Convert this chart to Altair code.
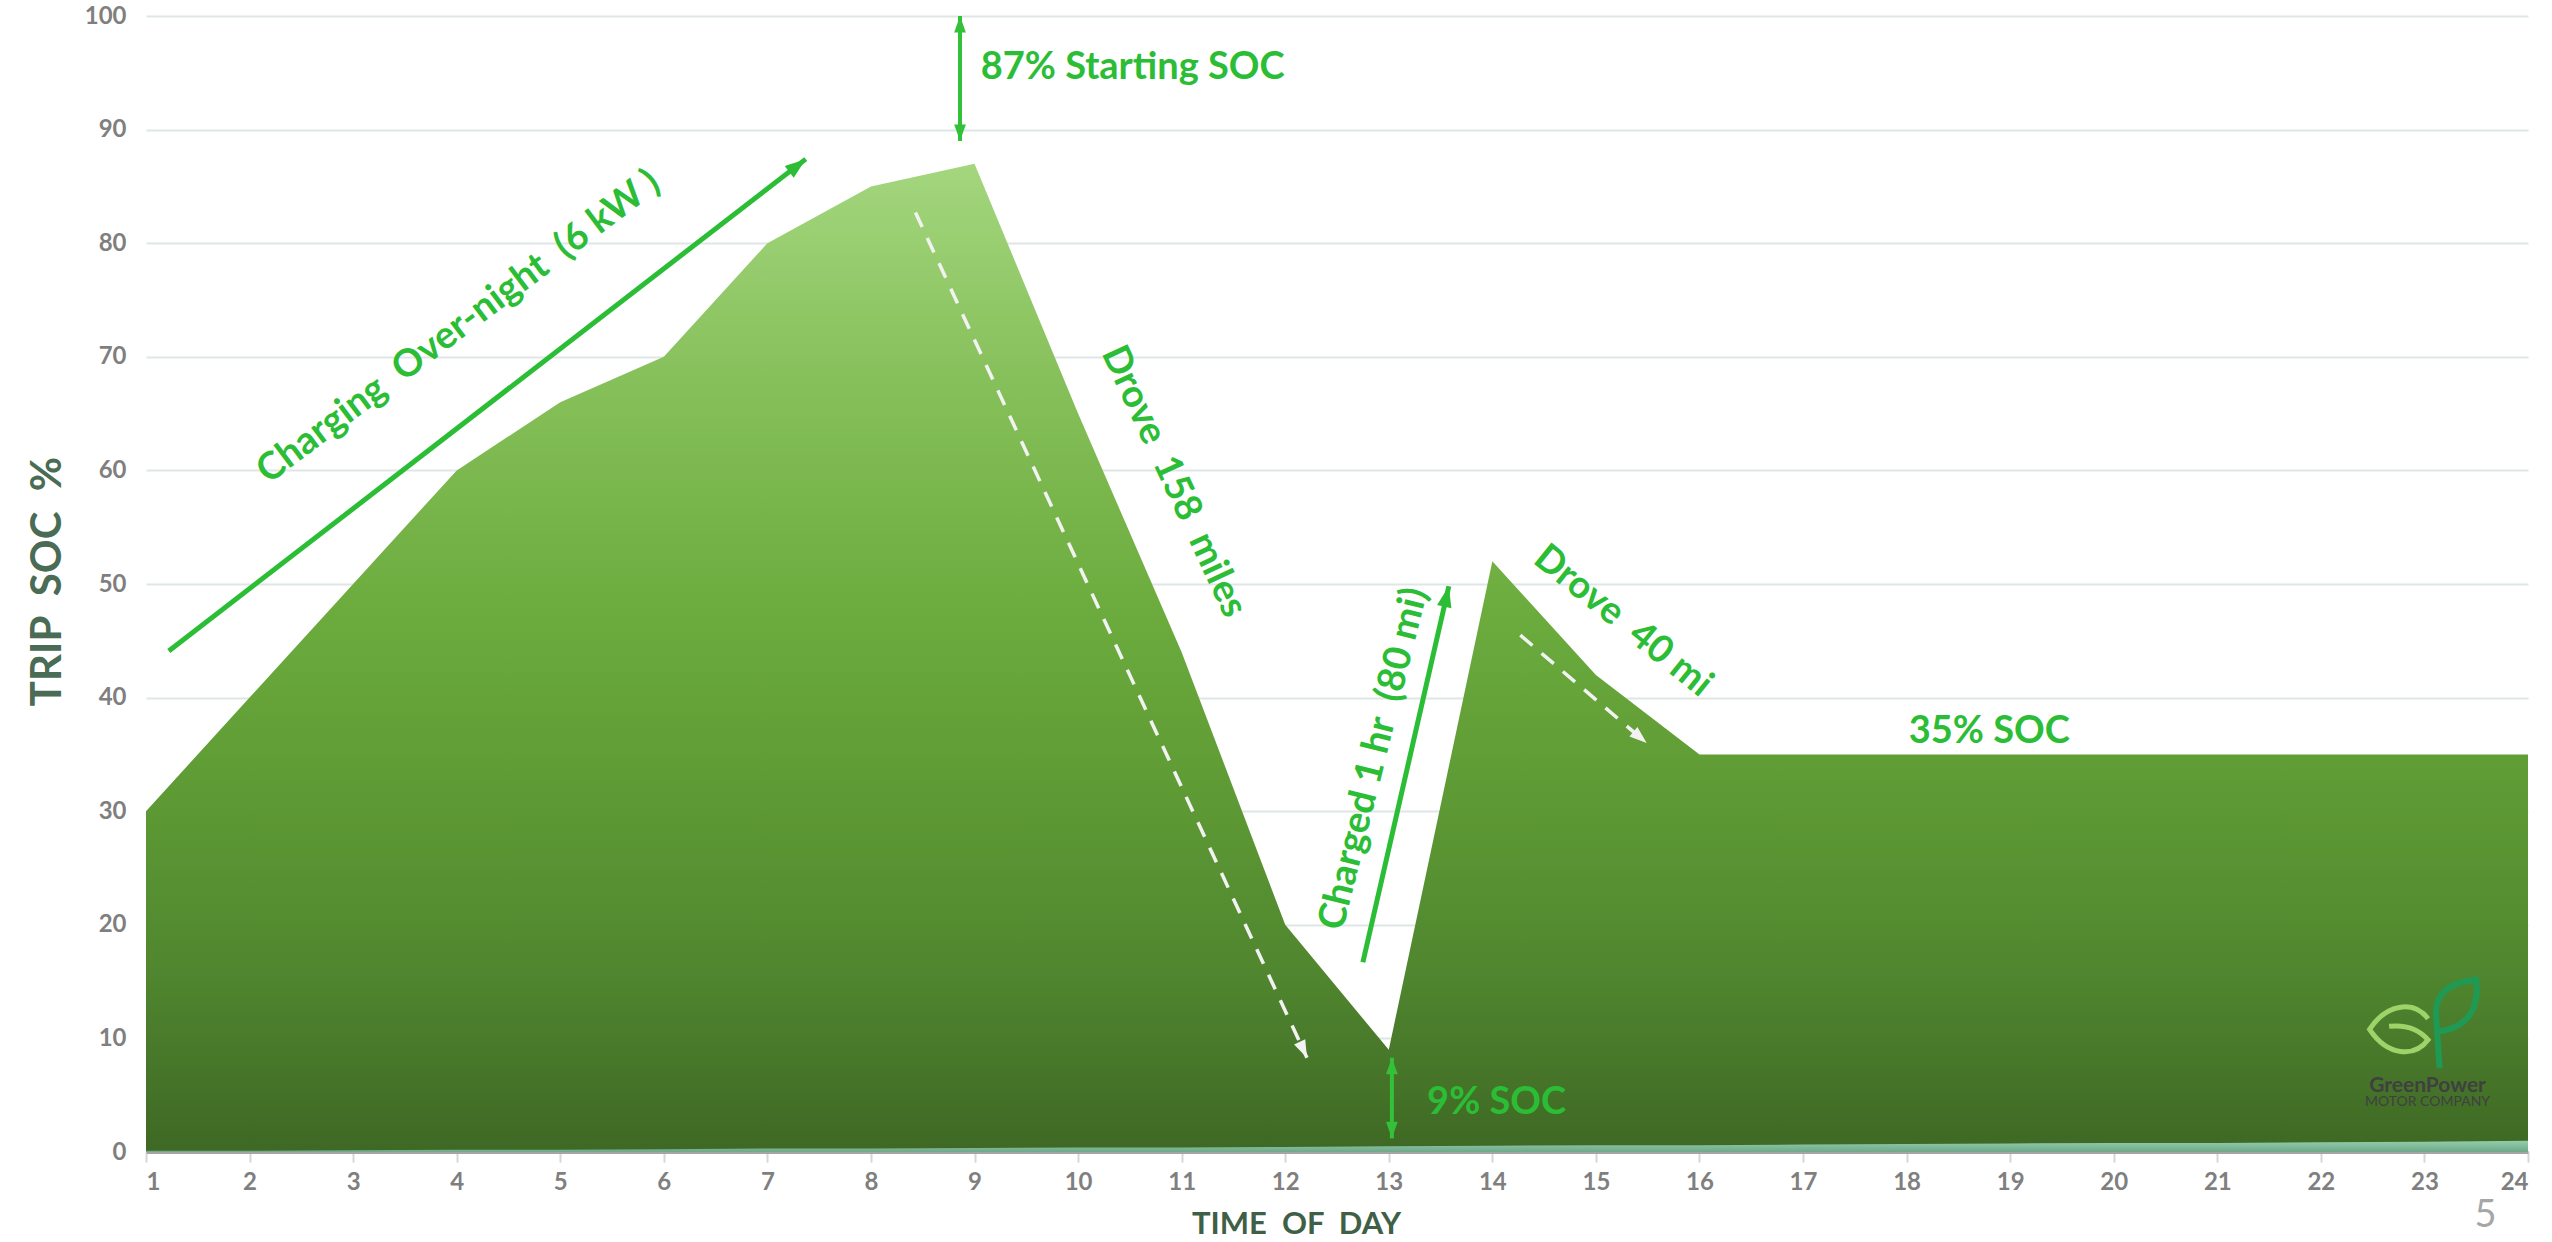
import math
import altair as alt
import pandas as pd

NB = "\u00a0"

# ---------------- data ----------------
hours = list(range(1, 25))
soc = [30, 40, 50, 60, 66, 70, 80, 85, 87, 65, 44, 20, 9, 52, 42, 35,
       35, 35, 35, 35, 35, 35, 35, 35]
band = [0.1, 0.1, 0.15, 0.2, 0.2, 0.25, 0.3, 0.3, 0.35, 0.4, 0.4, 0.45,
        0.5, 0.55, 0.6, 0.6, 0.65, 0.7, 0.75, 0.8, 0.8, 0.85, 0.9, 1.0]
y_ticks = list(range(0, 101, 10))

# solid green arrows (start -> end, data coordinates)
solid_x = [1.22, 12.75]
solid_y = [44.1, 16.7]
solid_x2 = [7.37, 13.58]
solid_y2 = [87.4, 49.8]

# double-headed vertical arrows
dbl_x = [8.86, 13.03]
dbl_lo = [89.0, 1.2]
dbl_hi = [100.0, 8.3]

# dashed white arrows
dash_x = [8.43, 14.27]
dash_y = [82.7, 45.5]
dash_x2 = [12.21, 15.49]
dash_y2 = [8.3, 36.0]

# rotated annotations
rot_text = ["Charging" + NB + " Over-night" + NB + " (6" + NB + "kW" + NB + ")",
            "Drove" + NB + " 158" + NB + " miles",
            "Charged 1 hr" + NB + " (80 mi)",
            "Drove" + NB + " 40 mi"]
rot_x = [4.02, 10.92, 12.86, 15.26]
rot_y = [72.6, 59.0, 34.6, 46.7]
rot_angle = [323, 65, 284, 39]

# horizontal annotations
flat_text = ["87% Starting SOC", "9% SOC", "35% SOC"]
flat_x = [9.06, 13.37, 18.02]
flat_y = [95.4, 4.3, 37.0]

# ---------------- layout ----------------
W, H = 2382, 1136
PAD = {"left": 146, "top": 16, "right": 24, "bottom": 90}
PX_H = W / 23.0
PX_U = H / 100.0
GREEN = "#2bbd36"
FONT = "Lato"

xs = alt.Scale(domain=[1, 24], nice=False, zero=False)
ys = alt.Scale(domain=[0, 100], nice=False)


def ang(dx, dy):
    return math.degrees(math.atan2(dx * PX_H, dy * PX_U)) % 360


main_df = pd.DataFrame({"hour": hours, "soc": soc, "band": band})

grad_main = alt.Gradient(
    gradient="linear", x1=0, x2=0, y1=0, y2=1,
    stops=[
        alt.GradientStop(color="#a4d67e", offset=0.0),
        alt.GradientStop(color="#86c05a", offset=0.22),
        alt.GradientStop(color="#6cac3e", offset=0.45),
        alt.GradientStop(color="#5f9c35", offset=0.62),
        alt.GradientStop(color="#50862f", offset=0.82),
        alt.GradientStop(color="#3e6824", offset=1.0),
    ],
)
grad_band = alt.Gradient(
    gradient="linear", x1=0, x2=0, y1=0, y2=1,
    stops=[
        alt.GradientStop(color="#93cdab", offset=0.0),
        alt.GradientStop(color="#6ea98a", offset=1.0),
    ],
)

base = alt.Chart(main_df)

area = base.mark_area(color=grad_main, interpolate="linear").encode(
    x=alt.X(
        "hour:Q", scale=xs,
        axis=alt.Axis(
            values=hours, format="d", grid=False,
            labelFont=FONT, labelFontSize=24, labelFontWeight="bold",
            labelColor="#7f7f7f", labelPadding=8,
            tickColor="#d3d8d8", tickWidth=2, tickSize=10,
            domainColor="#a5a5a5", domainWidth=3,
            title="TIME" + NB + " OF" + NB + " DAY", titleFont=FONT, titleFontSize=31,
            titleFontWeight="bold", titleColor="#3f5f47",
            titleX=1150, titleY=72, titleAlign="center", titleBaseline="middle",
        ),
    ),
    y=alt.Y(
        "soc:Q", scale=ys,
        axis=alt.Axis(
            values=y_ticks, grid=True, gridColor="#e0e6e6", gridWidth=2,
            domain=False, ticks=False,
            labelFont=FONT, labelFontSize=24, labelFontWeight="bold",
            labelColor="#7f7f7f", labelPadding=20,
            title="TRIP" + NB + " SOC" + NB + " %", titleFont=FONT, titleFontSize=42,
            titleFontWeight="bold", titleColor="#4a6b54", titleAngle=270,
            titleX=-99, titleY=565, titleAlign="center", titleBaseline="middle",
        ),
    ),
)

band_area = base.mark_area(color=grad_band).encode(
    x=alt.X("hour:Q", scale=xs), y=alt.Y("band:Q", scale=ys)
)

# solid arrows
solid_df = pd.DataFrame({"x": solid_x, "y": solid_y, "x2": solid_x2, "y2": solid_y2})
solid_rules = alt.Chart(solid_df).mark_rule(color=GREEN, strokeWidth=5).encode(
    x=alt.X("x:Q", scale=xs), y=alt.Y("y:Q", scale=ys), x2="x2:Q", y2="y2:Q"
)

HEAD = "M0,0 L0.6,1.7 L-0.6,1.7 Z"
solid_heads_df = pd.DataFrame({
    "x": solid_x2, "y": solid_y2,
    "angle": [ang(a2 - a, b2 - b) for a, b, a2, b2 in zip(solid_x, solid_y, solid_x2, solid_y2)],
})
solid_heads = alt.Chart(solid_heads_df).mark_point(
    shape=HEAD, filled=True, color=GREEN, size=600, opacity=1
).encode(
    x=alt.X("x:Q", scale=xs), y=alt.Y("y:Q", scale=ys),
    angle=alt.Angle("angle:Q", scale=None),
)

# double arrows
dbl_df = pd.DataFrame({"x": dbl_x, "lo": dbl_lo, "hi": dbl_hi})
dbl_rules = alt.Chart(dbl_df).mark_rule(color="#33c13a", strokeWidth=4).encode(
    x=alt.X("x:Q", scale=xs), y=alt.Y("lo:Q", scale=ys), y2="hi:Q"
)
dbl_heads_df = pd.DataFrame({
    "x": dbl_x + dbl_x,
    "y": dbl_hi + dbl_lo,
    "angle": [0] * len(dbl_x) + [180] * len(dbl_x),
})
dbl_heads = alt.Chart(dbl_heads_df).mark_point(
    shape=HEAD, filled=True, color="#33c13a", size=380, opacity=1
).encode(
    x=alt.X("x:Q", scale=xs), y=alt.Y("y:Q", scale=ys),
    angle=alt.Angle("angle:Q", scale=None),
)

# dashed arrows
dash_df = pd.DataFrame({"x": dash_x, "y": dash_y, "x2": dash_x2, "y2": dash_y2})
dash_rules = alt.Chart(dash_df).mark_rule(
    color="#f2f2f2", strokeWidth=3.5, strokeDash=[16, 12]
).encode(
    x=alt.X("x:Q", scale=xs), y=alt.Y("y:Q", scale=ys), x2="x2:Q", y2="y2:Q"
)
dash_heads_df = pd.DataFrame({
    "x": dash_x2, "y": dash_y2,
    "angle": [ang(a2 - a, b2 - b) for a, b, a2, b2 in zip(dash_x, dash_y, dash_x2, dash_y2)],
})
dash_heads = alt.Chart(dash_heads_df).mark_point(
    shape=HEAD, filled=True, color="#f2f2f2", size=420, opacity=1
).encode(
    x=alt.X("x:Q", scale=xs), y=alt.Y("y:Q", scale=ys),
    angle=alt.Angle("angle:Q", scale=None),
)

# texts
rot_df = pd.DataFrame({"x": rot_x, "y": rot_y, "t": rot_text, "angle": rot_angle})
rot_texts = alt.Chart(rot_df).mark_text(
    font=FONT, fontWeight="bold", fontSize=38, color=GREEN,
    align="center", baseline="middle",
).encode(
    x=alt.X("x:Q", scale=xs), y=alt.Y("y:Q", scale=ys), text="t:N",
    angle=alt.Angle("angle:Q", scale=None),
)

flat_df = pd.DataFrame({"x": flat_x, "y": flat_y, "t": flat_text})
flat_texts = alt.Chart(flat_df).mark_text(
    font=FONT, fontWeight="bold", fontSize=38, color=GREEN,
    align="left", baseline="middle",
).encode(x=alt.X("x:Q", scale=xs), y=alt.Y("y:Q", scale=ys), text="t:N")

# logo
leaf1 = alt.Chart(pd.DataFrame({"x": [22.76], "y": [10.8]})).mark_point(
    shape="M 0.95 -0.35 C 0.5 -0.95 -0.4 -0.9 -1 0 C -0.4 0.9 0.5 0.95 0.95 0.35 C 0.6 -0.05 0.1 -0.15 -0.35 -0.1",
    filled=False, stroke="#9fd36a", strokeWidth=5, size=3600, opacity=1,
).encode(x=alt.X("x:Q", scale=xs), y=alt.Y("y:Q", scale=ys))
leaf2 = alt.Chart(pd.DataFrame({"x": [23.29], "y": [11.2]})).mark_point(
    shape="M -0.33 0.96 L -0.41 -0.19 C -0.45 -0.7 -0.1 -0.95 0.48 -1 C 0.55 -0.5 0.4 0.05 -0.36 0.15",
    filled=False, stroke="#1f9a55", strokeWidth=6, size=8100, opacity=1,
).encode(x=alt.X("x:Q", scale=xs), y=alt.Y("y:Q", scale=ys))

logo_df = pd.DataFrame({
    "x": [23.03, 23.03], "y": [5.8, 4.4],
    "t": ["GreenPower", "MOTOR COMPANY"],
})
logo_t1 = alt.Chart(logo_df.iloc[[0]]).mark_text(
    font=FONT, fontWeight="bold", fontSize=21, color="#404040", align="center", baseline="middle"
).encode(x=alt.X("x:Q", scale=xs), y=alt.Y("y:Q", scale=ys), text="t:N")
logo_t2 = alt.Chart(logo_df.iloc[[1]]).mark_text(
    font=FONT, fontSize=14, color="#404040", align="center", baseline="middle"
).encode(x=alt.X("x:Q", scale=xs), y=alt.Y("y:Q", scale=ys), text="t:N")

page = alt.Chart(pd.DataFrame({"x": [23.59], "y": [-5.6], "t": ["5"]})).mark_text(
    font=FONT, fontSize=38, color="#a6a6a6", align="center", baseline="middle"
).encode(x=alt.X("x:Q", scale=xs), y=alt.Y("y:Q", scale=ys), text="t:N")

chart = alt.layer(
    area, band_area, leaf1, leaf2, logo_t1, logo_t2,
    solid_rules, solid_heads, dbl_rules, dbl_heads,
    dash_rules, dash_heads, rot_texts, flat_texts, page,
).properties(
    width=W, height=H,
    autosize=alt.AutoSizeParams(type="none"),
    padding=PAD,
    background="white",
).configure_view(stroke=None)

chart.save("out.html", embed_options={"renderer": "svg", "actions": False})
